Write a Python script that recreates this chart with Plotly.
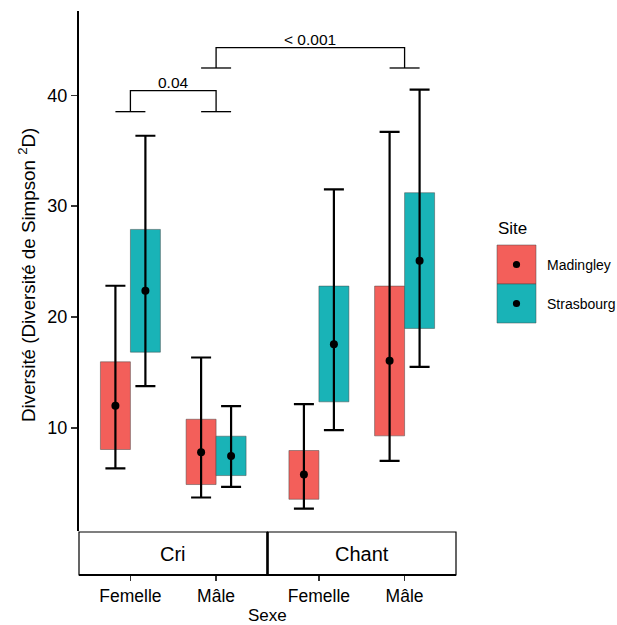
import plotly.graph_objects as go

# ---------------- data ----------------
contexts = ["Cri", "Chant"]
sexes = ["Femelle", "Mâle"]
sites = ["Madingley", "Strasbourg"]
site_colors = ["#F35F5A", "#19B3B7"]

# order: Cri-Femelle, Cri-Mâle, Chant-Femelle, Chant-Mâle
mad_mean = [11.99, 7.81, 5.79, 16.05]
mad_box_low = [8.05, 4.89, 3.56, 9.28]
mad_box_high = [15.96, 10.78, 7.96, 22.79]
mad_err_low = [6.34, 3.72, 2.72, 7.02]
mad_err_high = [22.82, 16.35, 12.14, 36.69]

stras_mean = [22.36, 7.47, 17.55, 25.07]
stras_box_low = [16.83, 5.70, 12.35, 18.97]
stras_box_high = [27.90, 9.25, 22.79, 31.21]
stras_err_low = [13.76, 4.68, 9.79, 15.50]
stras_err_high = [36.35, 11.96, 31.51, 40.50]

# brackets: (group index a, group index b, top y, leg y, label)
bracket_a = [0, 1]
bracket_b = [1, 3]
bracket_top = [40.41, 44.30]
bracket_leg = [38.52, 42.46]
bracket_labels = ["0.04", "< 0.001"]

y_ticks = [10, 20, 30, 40]

# ---------------- layout helpers ----------------
FONT = "Liberation Sans, Arial, Helvetica, sans-serif"
facet_gap = 2.2     # distance between facet origins in x units
dodge = 0.35

group_pos = []
tick_text = []
for fi, c in enumerate(contexts):
    for si, s in enumerate(sexes):
        group_pos.append(fi * facet_gap + si)
        tick_text.append(s)

series = [
    (mad_mean, mad_box_low, mad_box_high, mad_err_low, mad_err_high),
    (stras_mean, stras_box_low, stras_box_high, stras_err_low, stras_err_high),
]

fig = go.Figure()

for k, (mean, blo, bhi, elo, ehi) in enumerate(series):
    off = (k - 0.5) * dodge
    xs = [p + off for p in group_pos]
    fig.add_trace(go.Bar(
        x=xs, base=blo, y=[h - l for h, l in zip(bhi, blo)],
        width=dodge, marker=dict(color=site_colors[k],
                                 line=dict(color="rgba(70,70,70,0.7)", width=0.7)),
        showlegend=False, hoverinfo="skip"))

for k, (mean, blo, bhi, elo, ehi) in enumerate(series):
    off = (k - 0.5) * dodge
    xs = [p + off for p in group_pos]
    fig.add_trace(go.Scatter(
        x=xs, y=mean, mode="markers",
        marker=dict(color="black", size=8),
        error_y=dict(type="data", symmetric=False,
                     array=[h - m for h, m in zip(ehi, mean)],
                     arrayminus=[m - l for m, l in zip(mean, elo)],
                     color="black", thickness=2.2, width=10),
        showlegend=False, hoverinfo="skip"))

# brackets
for a, b, yt, yl, lab in zip(bracket_a, bracket_b, bracket_top, bracket_leg, bracket_labels):
    xa, xb = group_pos[a], group_pos[b]
    h = dodge / 2
    xs = [xa - h, xa + h, None, xa, xa, xb, xb, None, xb - h, xb + h]
    ys = [yl, yl, None, yl, yt, yt, yl, None, yl, yl]
    fig.add_trace(go.Scatter(x=xs, y=ys, mode="lines",
                             line=dict(color="black", width=1.3),
                             showlegend=False, hoverinfo="skip"))
    fig.add_annotation(x=(xa + xb) / 2, y=yt, text=lab, showarrow=False,
                       xanchor="center", yanchor="bottom", yshift=-2,
                       font=dict(family=FONT, size=15.5, color="black"))

# plot geometry
L, R, T, B = 79, 161, 11, 50
W, H = 617, 625
ph = H - T - B
strip_top = (575 - 532) / ph
ydom0 = (575 - 531) / ph

def px_x(px):
    return (px - L) / (W - L - R)

def px_y(py):
    return (H - B - py) / ph

# strips
shapes = []
for fi, c in enumerate(contexts):
    x0 = fi * 0.5
    x1 = x0 + 0.5
    shapes.append(dict(type="rect", xref="paper", yref="paper",
                       x0=x0, x1=x1, y0=0, y1=strip_top,
                       line=dict(color="black", width=1.2), fillcolor="white",
                       layer="below"))
    fig.add_annotation(xref="paper", yref="paper", x=(x0 + x1) / 2, y=strip_top / 2,
                       text=c, showarrow=False, xanchor="center", yanchor="middle",
                       font=dict(family=FONT, size=20, color="black"))
shapes.append(dict(type="line", xref="paper", yref="paper", x0=0.5, x1=0.5,
                   y0=0, y1=strip_top, line=dict(color="black", width=2.6)))

# manual legend
fig.add_annotation(xref="paper", yref="paper", x=px_x(496), y=px_y(229),
                   text="Site", showarrow=False, xanchor="left", yanchor="middle",
                   font=dict(family=FONT, size=17, color="black"))
for k, s in enumerate(sites):
    top = 245 + 39 * k
    shapes.append(dict(type="rect", xref="paper", yref="paper",
                       x0=px_x(497), x1=px_x(536), y0=px_y(top + 39), y1=px_y(top),
                       fillcolor=site_colors[k],
                       line=dict(color="rgba(70,70,70,0.7)", width=0.7)))
    shapes.append(dict(type="circle", xref="paper", yref="paper",
                       xsizemode="pixel", ysizemode="pixel",
                       xanchor=px_x(516.5), yanchor=px_y(top + 19.5),
                       x0=-3.6, x1=3.6, y0=-3.6, y1=3.6,
                       fillcolor="black", line=dict(color="black", width=0)))
    fig.add_annotation(xref="paper", yref="paper", x=px_x(545), y=px_y(top + 19.5),
                       text=s, showarrow=False, xanchor="left", yanchor="middle",
                       font=dict(family=FONT, size=14, color="black"))

# axis titles
fig.add_annotation(xref="paper", yref="paper", x=0.5, y=px_y(615.5),
                   text="Sexe", showarrow=False, xanchor="center", yanchor="middle",
                   font=dict(family=FONT, size=17, color="black"))
fig.add_annotation(xref="paper", yref="paper", x=px_x(27), y=px_y(275),
                   text="Diversité (Diversité de Simpson <sup>2</sup>D)",
                   textangle=-90, showarrow=False, xanchor="center", yanchor="middle",
                   font=dict(family=FONT, size=18.8, color="black"))

fig.update_layout(
    width=W, height=H,
    margin=dict(l=L, r=R, t=T, b=B, pad=0),
    paper_bgcolor="white", plot_bgcolor="white",
    barmode="overlay",
    showlegend=False,
    shapes=shapes,
    font=dict(family=FONT, color="black"),
    xaxis=dict(range=[-0.6, 2 * facet_gap - 0.6], tickmode="array",
               tickvals=group_pos, ticktext=tick_text,
               anchor="free", position=0,
               showline=True, linecolor="black", linewidth=2.2,
               ticks="outside", ticklen=5, tickwidth=1.5, tickcolor="#333",
               showgrid=False, zeroline=False,
               tickfont=dict(family=FONT, size=17.5, color="black"),
               fixedrange=True),
    yaxis=dict(domain=[ydom0, 1], range=[0.7, 47.6],
               tickmode="array", tickvals=y_ticks,
               showline=True, linecolor="black", linewidth=2.2,
               ticks="outside", ticklen=6, tickwidth=1.5, tickcolor="#333",
               showgrid=False, zeroline=False,
               tickfont=dict(family=FONT, size=18, color="black"),
               fixedrange=True),
)

fig.write_html("out.html", config={"staticPlot": True},
               post_script="document.body.style.margin='0px';document.body.style.overflow='hidden';")
